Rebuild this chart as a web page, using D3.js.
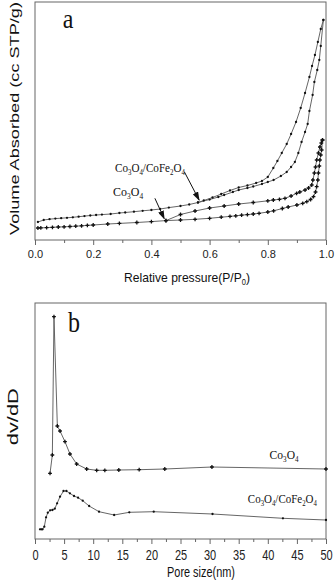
<!DOCTYPE html>
<html>
<head>
<meta charset="utf-8">
<script src="https://cdn.jsdelivr.net/npm/d3@7"></script>
<style>
  html, body { margin: 0; padding: 0; background: #fff; }
  svg { display: block; }
</style>
</head>
<body>
<svg id="chart" width="335" height="582"></svg>
<script>
// ---- data (arbitrary volume / dV/dD units) ----
// panel a: [P/P0, volume]
var compAds = [[0.01,18],[0.03,20],[0.05,20.8],[0.07,21.4],[0.09,21.8],[0.11,22.2],[0.13,22.7],[0.15,23.3],
  [0.17,23.9],[0.19,24.5],[0.21,25],[0.23,25.4],[0.26,26],[0.29,27],[0.31,27.5],[0.34,28.3],[0.37,29.2],
  [0.40,30],[0.43,31],[0.46,32.4],[0.50,34],[0.53,35.5],[0.56,37.5],[0.60,40.5],[0.63,43],[0.65,45],
  [0.68,48],[0.70,50],[0.73,52],[0.75,53.5],[0.78,56],[0.80,58],[0.82,60],[0.845,64],[0.865,68],
  [0.88,73],[0.893,78],[0.905,87],[0.916,98],[0.928,108],[0.937,116],[0.943,129],[0.954,145],
  [0.960,158],[0.970,170],[0.977,180],[0.982,194],[0.991,220]];
var compDes = [[0.991,220],[0.982,211],[0.972,198],[0.962,185],[0.952,174],[0.943,163],[0.928,147],
  [0.913,132],[0.897,118],[0.880,106],[0.865,96],[0.848,87],[0.833,79],[0.819,72],[0.80,63],[0.78,59],
  [0.76,57],[0.73,54.5],[0.70,52.5],[0.67,49.5],[0.64,46],[0.61,42.5],[0.58,39.5],[0.56,37.5]];
var coAds = [[0.01,12],[0.02,12.1],[0.04,12.4],[0.06,12.7],[0.08,13],[0.10,13.2],[0.12,13.5],[0.14,13.8],
  [0.16,14.2],[0.18,14.6],[0.20,15],[0.25,16],[0.29,16.6],[0.35,17.5],[0.40,18.4],[0.45,19.4],[0.50,20],
  [0.55,20.7],[0.60,21.7],[0.64,22.8],[0.67,23.6],[0.69,24.2],[0.71,24.8],[0.73,25.4],[0.75,26],
  [0.77,26.7],[0.80,28],[0.82,29.2],[0.85,31.5],[0.87,33],[0.90,35],[0.92,36.7],[0.934,38.3],
  [0.947,40.5],[0.957,43.3],[0.964,48],[0.968,53.3],[0.972,60],[0.974,67],[0.977,74],[0.979,80],
  [0.982,85],[0.985,90],[0.988,100]];
var coDes = [[0.988,100],[0.984,97],[0.979,93],[0.974,87],[0.968,80],[0.964,73],[0.960,67],[0.955,60],
  [0.951,55],[0.94,52],[0.928,50],[0.91,48],[0.899,46.7],[0.88,44],[0.859,41.7],[0.84,40.7],[0.819,40],
  [0.80,39.2],[0.75,37.5],[0.70,36],[0.65,34],[0.60,32],[0.55,29],[0.50,25.5],[0.45,19.4]];

// panel b: [pore size nm, dV/dD]
var coPsd = [[2.58,65.7],[2.98,84],[3.26,222.3],[3.84,113],[4.3,108],[5.15,97.3],[6.01,85],[7.16,75],
  [8.88,70],[10.6,68.7],[12.0,68.7],[14.4,69],[17.9,69.3],[22.3,70],[30.4,72],[50,70]];
var compPsd = [[0.86,9.7],[1.1,9.7],[1.3,9.7],[1.6,12.3],[1.9,21.7],[2.2,26.3],[2.6,28.7],[3.0,29],
  [3.4,30.3],[3.8,35.7],[4.3,42.3],[4.9,48],[5.4,48],[6.0,45.7],[6.7,43],[7.4,41.3],[8.2,38.3],
  [9.3,33],[11.0,27.3],[13.6,24],[16.2,26.7],[20.4,27.3],[30.5,25],[42.6,20.7],[50,19]];

var ticksA = [0, 0.2, 0.4, 0.6, 0.8, 1.0];
var minorA = [0.1, 0.3, 0.5, 0.7, 0.9];
var ticksB = [0, 5, 10, 15, 20, 25, 30, 35, 40, 45, 50];
var minorB = [2.5, 7.5, 12.5, 17.5, 22.5, 27.5, 32.5, 37.5, 42.5, 47.5];

// ---- layout ----
var svg = d3.select("#chart");
var L = 35, R = 326;
var xa = d3.scaleLinear().domain([0, 1]).range([L, R]);
var ya = d3.scaleLinear().domain([0, 238]).range([240, 2]);
var xb = d3.scaleLinear().domain([0, 50]).range([L, R]);
var yb = d3.scaleLinear().domain([0, 236]).range([539, 303]);

var SANS = "'Liberation Sans', Arial, sans-serif";
var SERIF = "'Liberation Serif', 'Times New Roman', serif";
var FRAME = "#666";

var defs = svg.append("defs");
defs.append("marker")
    .attr("id", "arrowHead")
    .attr("markerUnits", "userSpaceOnUse")
    .attr("markerWidth", 9).attr("markerHeight", 6)
    .attr("refX", 8).attr("refY", 3)
    .attr("orient", "auto")
  .append("path")
    .attr("d", "M0,0 L9,3 L0,6 Z")
    .attr("fill", "#111");

// text with digits (or "_x") drawn as subscripts, stretched to a width
function richText(parent, str, x, y, size, family, opts) {
    opts = opts || {};
    var t = parent.append("text")
        .attr("text-anchor", opts.anchor || "middle")
        .style("font-family", family)
        .style("font-size", size + "px")
        .attr("fill", opts.fill || "#111");
    var tokens = opts.subDigits ? str.split(/(\d)/) : str.split(/(_.)/);
    var sub = size * 0.62, shift = size * 0.22, down = false;
    tokens.forEach(function (tok) {
        if (tok === "") return;
        var isSub = opts.subDigits ? /^\d$/.test(tok) : tok.charAt(0) === "_";
        var s = t.append("tspan").text(isSub && !opts.subDigits ? tok.slice(1) : tok);
        if (isSub) {
            s.style("font-size", sub + "px");
            if (!down) { s.attr("dy", shift); down = true; }
        } else if (down) {
            s.attr("dy", -shift); down = false;
        }
    });
    var w = t.node().getComputedTextLength();
    var sx = opts.width ? opts.width / w : 1;
    var sy = opts.sy || 1;
    t.attr("transform", "translate(" + x + "," + y + ")" +
        (opts.rotate ? " rotate(" + opts.rotate + ")" : "") +
        " scale(" + sx + "," + sy + ")");
    return t;
}

function drawPanel(x, y, top, bottom, major, minor, fmt, labelBase, labelSy) {
    var g = svg.append("g");
    g.append("rect")
        .attr("x", L).attr("y", top)
        .attr("width", R - L).attr("height", bottom - top)
        .attr("fill", "none").attr("stroke", FRAME).attr("stroke-width", 1);

    var ax = g.append("g").attr("transform", "translate(0," + bottom + ")")
        .call(d3.axisBottom(x).tickValues(major).tickFormat(fmt).tickSize(5).tickSizeOuter(0));
    ax.select(".domain").remove();
    ax.selectAll(".tick line").attr("stroke", FRAME);
    ax.selectAll(".tick text")
        .attr("y", 0).attr("dy", null)
        .attr("transform", "translate(0," + labelBase + ") scale(1," + labelSy + ")")
        .style("font-family", SANS).style("font-size", "11px").attr("fill", "#222");

    var mx = g.append("g").attr("transform", "translate(0," + bottom + ")")
        .call(d3.axisBottom(x).tickValues(minor).tickFormat("").tickSize(3).tickSizeOuter(0));
    mx.select(".domain").remove();
    mx.selectAll(".tick line").attr("stroke", FRAME);
    return g;
}

function drawSeries(g, data, x, y, kind) {
    var line = d3.line().x(function (d) { return x(d[0]); }).y(function (d) { return y(d[1]); });
    g.append("path").datum(data)
        .attr("d", line)
        .attr("fill", "none").attr("stroke", "#555").attr("stroke-width", 0.9);
    if (kind === "cross") {
        g.selectAll(null).data(data).enter().append("path")
            .attr("transform", function (d) { return "translate(" + x(d[0]) + "," + y(d[1]) + ")"; })
            .attr("d", d3.symbol(d3.symbolCross, 8))
            .attr("fill", "#111");
    } else {
        g.selectAll(null).data(data).enter().append("circle")
            .attr("cx", function (d) { return x(d[0]); })
            .attr("cy", function (d) { return y(d[1]); })
            .attr("r", 1.15)
            .attr("fill", "#111");
    }
}

function arrow(g, x, y, from, to) {
    g.append("line")
        .attr("x1", x(from[0])).attr("y1", y(from[1]))
        .attr("x2", x(to[0])).attr("y2", y(to[1]))
        .attr("stroke", "#111").attr("stroke-width", 1)
        .attr("marker-end", "url(#arrowHead)");
}

// ---- panel a ----
var ga = drawPanel(xa, ya, 2, 240, ticksA, minorA, d3.format(".1f"), 18, 1);
drawSeries(ga, compAds, xa, ya, "dot");
drawSeries(ga, compDes, xa, ya, "dot");
drawSeries(ga, coAds, xa, ya, "cross");
drawSeries(ga, coDes, xa, ya, "cross");
arrow(ga, xa, ya, [0.513, 68.3], [0.564, 40]);
arrow(ga, xa, ya, [0.412, 41.7], [0.444, 21.3]);
richText(ga, "Co3O4/CoFe2O4", xa(0.395), ya(68), 11.5, SERIF, { subDigits: true, width: 70, sy: 1.1 });
richText(ga, "Co3O4", xa(0.32), ya(44), 11.5, SERIF, { subDigits: true, width: 30, sy: 1.1 });
richText(ga, "a", 68, 28, 24, SERIF, { sy: 1.1 });
richText(svg, "Relative pressure(P/P_0)", 187, 282, 13, SANS, { width: 126, sy: 1.05 });
richText(svg, "Volume Absorbed (cc STP/g)", 19, 118.5, 12.5, SANS, { width: 233, rotate: -90 });

// ---- panel b ----
var gb = drawPanel(xb, yb, 303, 539, ticksB, minorB, d3.format("d"), 21, 1.35);
drawSeries(gb, coPsd, xb, yb, "cross");
drawSeries(gb, compPsd, xb, yb, "dot");
richText(gb, "Co3O4", xb(42.8), yb(80), 11.5, SERIF, { subDigits: true, width: 29, sy: 1.1 });
richText(gb, "Co3O4/CoFe2O4", xb(42.5), yb(36), 11.5, SERIF, { subDigits: true, width: 69, sy: 1.1 });
richText(gb, "b", 74, 332, 24, SERIF, { sy: 1.2 });
richText(svg, "Pore size(nm)", 201, 577, 14, SANS, { width: 68 });
richText(svg, "dv/dD", 17.5, 416.7, 15, SANS, { width: 57, rotate: -90 });
</script>
</body>
</html>
